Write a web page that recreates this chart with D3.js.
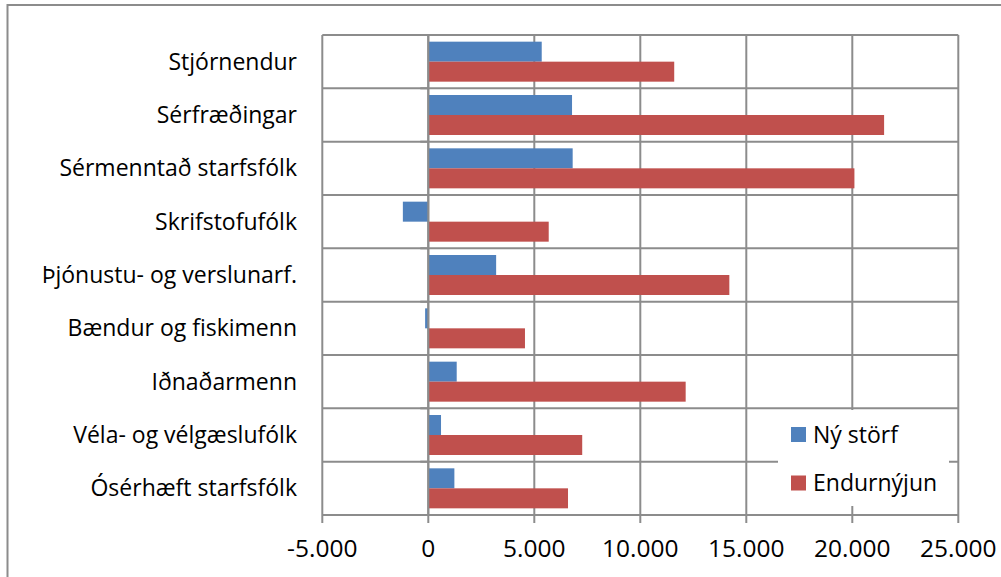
<!DOCTYPE html>
<html><head><meta charset="utf-8">
<script src="https://cdn.jsdelivr.net/npm/d3@7"></script>
<style>body{margin:0;background:#fff}svg{display:block}</style>
</head><body>
<script>
const categories = ["Stjórnendur","Sérfræðingar","Sérmenntað starfsfólk","Skrifstofufólk","Þjónustu- og verslunarf.","Bændur og fiskimenn","Iðnaðarmenn","Véla- og vélgæslufólk","Ósérhæft starfsfólk"];
const seriesNames = ["Ný störf","Endurnýjun"];
const nyStorf = [5350, 6780, 6810, -1200, 3200, -150, 1340, 600, 1230];
const endurnyjun = [11600, 21500, 20100, 5680, 14200, 4560, 12140, 7260, 6590];
const xTicks = [-5000, 0, 5000, 10000, 15000, 20000, 25000];
const colors = ["#4F81BD", "#C0504D"];

const W = 1001, H = 577;
const svg = d3.select("body").append("svg").attr("width", W).attr("height", H);
const FONT = "Open Sans, Noto Sans, sans-serif";
const FS = 23;
const FS_TICK = 24.5;

svg.append("rect").attr("x", 7.5).attr("y", 5).attr("width", 1100).attr("height", 700)
  .attr("fill", "none").attr("stroke", "#8c8c8c").attr("stroke-width", 2);

const L = 322.3, R = 958.3, T = 35, B = 515;
const x = d3.scaleLinear().domain([-5000, 25000]).range([L, R]);
const y = d3.scaleBand().domain(categories).range([T, B]).paddingInner(0).paddingOuter(0);
const yInner = d3.scaleBand().domain(seriesNames)
  .range([y.bandwidth()*0.125, y.bandwidth()*0.875]).paddingInner(0).paddingOuter(0);

const gridColor = "#8c8c8c";
const g = svg.append("g");
g.selectAll("line.vg").data(xTicks).join("line")
  .attr("x1", d => x(d)).attr("x2", d => x(d)).attr("y1", T).attr("y2", B + 8)
  .attr("stroke", gridColor).attr("stroke-width", 2);
const bounds = categories.map(c => y(c)).concat([B]);
g.selectAll("line.hg").data(bounds).join("line")
  .attr("x1", L).attr("x2", R).attr("y1", d => d).attr("y2", d => d)
  .attr("stroke", gridColor).attr("stroke-width", 2);
g.selectAll("line.ct").data(bounds).join("line")
  .attr("x1", x(0) - 8).attr("x2", x(0)).attr("y1", d => d).attr("y2", d => d)
  .attr("stroke", gridColor).attr("stroke-width", 2);

const series = [nyStorf, endurnyjun];
series.forEach((vals, si) => {
  svg.append("g").selectAll("rect").data(vals).join("rect")
    .attr("x", d => x(Math.min(0, d)))
    .attr("width", d => Math.abs(x(d) - x(0)))
    .attr("y", (d, i) => y(categories[i]) + yInner(seriesNames[si]))
    .attr("height", yInner.bandwidth())
    .attr("fill", colors[si]);
});
svg.append("line").attr("x1", x(0)).attr("x2", x(0)).attr("y1", T).attr("y2", B)
  .attr("stroke", gridColor).attr("stroke-width", 2);

svg.append("g").selectAll("text").data(categories).join("text")
  .attr("x", 297).attr("y", d => y(d) + y.bandwidth()/2)
  .attr("dy", "0.35em").attr("text-anchor", "end")
  .attr("font-family", FONT).attr("font-size", FS).attr("fill", "#000")
  .text(d => d);

const fmt = d => d3.format(",")(d).replace(/,/g, ".").replace("−", "-");
svg.append("g").selectAll("text").data(xTicks).join("text")
  .attr("x", d => x(d)).attr("y", 557)
  .attr("text-anchor", "middle")
  .attr("font-family", FONT).attr("font-size", FS_TICK).attr("fill", "#000")
  .text(d => fmt(d));

const lg = svg.append("g");
lg.append("rect").attr("x", 778).attr("y", 410).attr("width", 171).attr("height", 96).attr("fill", "#fff");
seriesNames.forEach((n, i) => {
  const cy = 434.5 + i * 48.5;
  lg.append("rect").attr("x", 791).attr("y", cy - 7.5).attr("width", 15).attr("height", 15).attr("fill", colors[i]);
  lg.append("text").attr("x", 813).attr("y", cy).attr("dy", "0.35em")
    .attr("font-family", FONT).attr("font-size", FS).attr("fill", "#000").text(n);
});
</script>
</body></html>
